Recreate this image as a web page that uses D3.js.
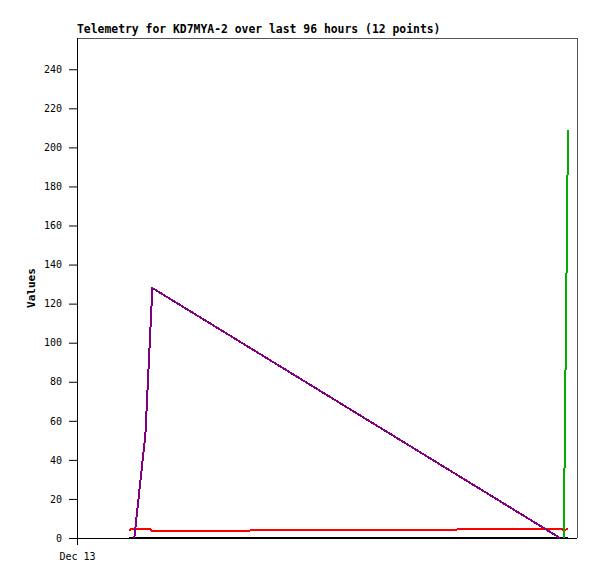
<!DOCTYPE html>
<meta charset="utf-8">
<style>
body { margin: 0; background: #fff; }
svg { font-family: "DejaVu Sans Mono", monospace; }
.tick text { font-family: "DejaVu Sans Mono", monospace; font-size: 10px; fill: #000; }
.tick line { stroke: #000; }
.domain { display: none; }
.series { fill: none; stroke-width: 2; shape-rendering: crispEdges; stroke-linejoin: round; }
</style>
<body>
<script src="https://cdn.jsdelivr.net/npm/d3@7"></script>
<script>

// sample times (Dec 13), one entry per telemetry packet
var times = ["02:31", "02:35", "02:45", "03:17", "03:30", "03:37",
             "23:11", "23:15", "23:22", "23:34"];

// channel values, null where that channel has no point
var black  = [0, 0, 0, 0, 0, 0, 0, 0, 0, 0];
var red    = [3.5, 4.6, null, null, 4.6, 3.6, 4.6, 4.6, 4.1, 4.6];
var purple = [null, null, 0, 53, null, 128, 0, null, null, null];
var green  = [null, null, null, null, null, null, null, null, 0, 209];

var yTicks = [0, 20, 40, 60, 80, 100, 120, 140, 160, 180, 200, 220, 240];

var width = 597, height = 579,
    plotLeft = 77, plotRight = 577, plotTop = 38, plotBottom = 538;

var day = new Date(2023, 11, 13);
var parse = function(s) {
  var p = s.split(":");
  return new Date(2023, 11, 13, +p[0], +p[1]);
};

var x = d3.scaleTime()
    .domain([day, new Date(2023, 11, 14)])
    .range([plotLeft, plotRight]);

var y = d3.scaleLinear()
    .domain([0, 256])
    .range([plotBottom, plotTop]);

var svg = d3.select("body").append("svg")
    .attr("width", width)
    .attr("height", height);

// frame
svg.append("line")
    .attr("x1", plotLeft).attr("x2", plotRight)
    .attr("y1", plotTop + 0.5).attr("y2", plotTop + 0.5)
    .style("stroke", "#555");
svg.append("line")
    .attr("x1", plotRight + 0.5).attr("x2", plotRight + 0.5)
    .attr("y1", plotTop).attr("y2", plotBottom)
    .style("stroke", "#555");

svg.append("g")
    .attr("transform", "translate(" + plotLeft + ",0)")
    .call(d3.axisLeft(y).tickValues(yTicks).tickSize(8).tickPadding(7).tickSizeOuter(0));

svg.append("g")
    .attr("transform", "translate(0," + plotBottom + ")")
    .call(d3.axisBottom(x).tickValues([day]).tickFormat(d3.timeFormat("%b %d"))
      .tickSize(7).tickPadding(8).tickSizeOuter(0));

svg.append("line")
    .attr("x1", plotLeft + 0.5).attr("x2", plotLeft + 0.5)
    .attr("y1", plotTop).attr("y2", plotBottom)
    .style("stroke", "#000");
svg.append("line")
    .attr("x1", plotLeft).attr("x2", plotRight)
    .attr("y1", plotBottom + 0.5).attr("y2", plotBottom + 0.5)
    .style("stroke", "#000");

var line = d3.line()
    .x(function(d) { return x(d.t); })
    .y(function(d) { return y(d.v); });

var series = [
  {values: black, color: "#000000"},
  {values: red, color: "#ff0000"},
  {values: purple, color: "#800080"},
  {values: green, color: "#00b000"}
];

series.forEach(function(s) {
  var pts = [];
  s.values.forEach(function(v, i) {
    if (v !== null) pts.push({t: parse(times[i]), v: v});
  });
  svg.append("path")
      .datum(pts)
      .attr("class", "series")
      .attr("d", line)
      .style("stroke", s.color);
});

svg.append("text")
    .attr("x", plotLeft)
    .attr("y", 33)
    .style("font-size", "11.4px")
    .style("font-weight", "bold")
    .text("Telemetry for KD7MYA-2 over last 96 hours (12 points)");

svg.append("text")
    .attr("transform", "translate(35," + ((plotTop + plotBottom) / 2) + ") rotate(-90)")
    .attr("text-anchor", "middle")
    .style("font-size", "11px")
    .style("font-weight", "bold")
    .text("Values");

</script>
</body>
</html>
